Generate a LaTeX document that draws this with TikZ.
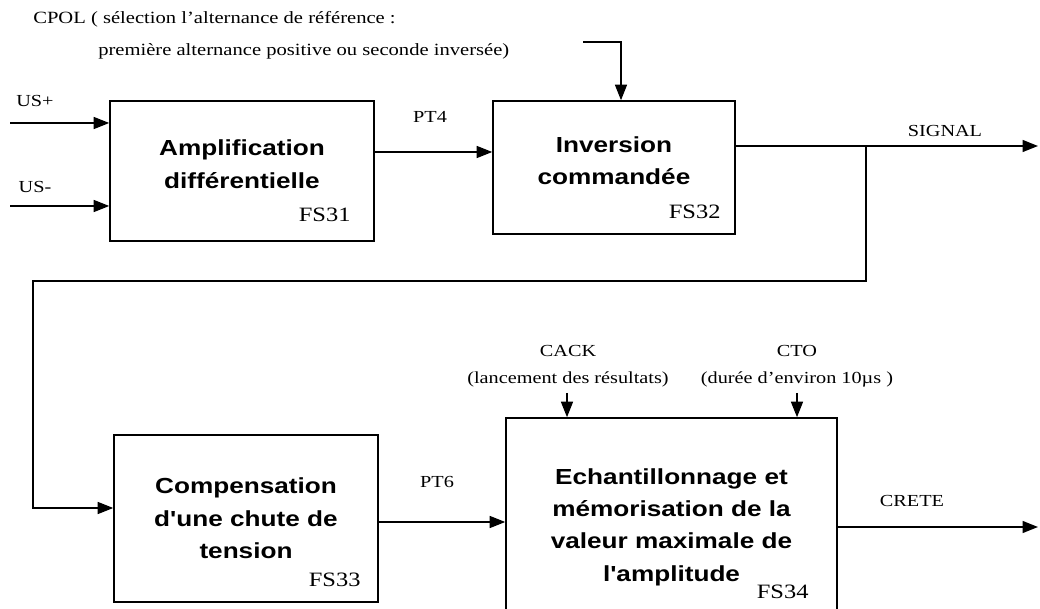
\documentclass[tikz,border=0pt]{standalone}
\usepackage{fontspec}
\setmainfont{Liberation Serif}[FakeStretch=1.2]
\newfontfamily\blockfont{Liberation Sans}[FakeStretch=1.2]
\usetikzlibrary{arrows.meta,positioning}

\tikzset{
  block/.style={draw,line width=1.1pt,align=center,
    font=\blockfont\bfseries\fontsize{15.5}{23}\selectfont},
  fslabel/.style={font=\fontsize{14.5}{17}\selectfont,anchor=south east,inner sep=0pt},
  sig/.style={font=\fontsize{12}{14}\selectfont,inner sep=0pt},
  flow/.style={line width=1.1pt,-{Triangle[length=11pt,width=8.5pt]}},
  wire/.style={line width=1.1pt}
}

\begin{document}
\begin{tikzpicture}[x=0.025cm,y=-0.025cm]
  \useasboundingbox (0,0) rectangle (1040,609);

  % blocs
  \node[block,text depth=10pt,minimum width=6.6cm,minimum height=3.5cm] (fs31) at (242,171)
    {Amplification\\diff\'erentielle};
  \node[block,text depth=10pt,minimum width=6.05cm,minimum height=3.325cm] (fs32) at (614,167.5)
    {Inversion\\command\'ee};
  \node[block,minimum width=6.6cm,minimum height=4.175cm] (fs33) at (246,518.5)
    {Compensation\\d'une chute de\\tension};
  \node[block,minimum width=8.275cm,minimum height=5.45cm] (fs34) at (671.5,527)
    {Echantillonnage et\\m\'emorisation de la\\valeur maximale de\\l'amplitude};

  \node[fslabel] (n31) at ([shift={(-24,-20)}]fs31.south east) {FS31};
  \node[fslabel] (n32) at ([shift={(-15,-16)}]fs32.south east) {FS32};
  \node[fslabel] (n33) at ([shift={(-18,-16)}]fs33.south east) {FS33};
  \node[fslabel] (n34) at ([shift={(-29,-38)}]fs34.south east) {FS34};

  % entrees
  \coordinate (usp) at (10,123);
  \coordinate (usm) at (10,206);
  \draw[flow] (usp) -- (usp -| fs31.west);
  \draw[flow] (usm) -- (usm -| fs31.west);
  \node[sig] (lusp) at (35,101) {US+};
  \node[sig] (lusm) at (35,187) {US-};

  % PT4
  \coordinate (pt4) at (374,152);
  \draw[flow] (pt4) -- (pt4 -| fs32.west);
  \node[sig] (lpt4) at (430,117) {PT4};

  % CPOL
  \node[sig,font=\fontsize{12.2}{14}\selectfont,anchor=west] (cpol1) at (33,19) {CPOL ( s\'election l'alternance de r\'ef\'erence :};
  \node[sig,font=\fontsize{12.2}{14}\selectfont,anchor=west] (cpol2) at (98,51) {premi\`ere alternance positive ou seconde invers\'ee)};
  \coordinate (cpol) at (583,42);
  \coordinate (cpolin) at (621,42);
  \draw[flow] (cpol) -- (cpolin) -- (cpolin |- fs32.north);

  % SIGNAL et retour
  \coordinate (sigout) at (1038,146);
  \coordinate (br) at (866,146);
  \draw[flow] (sigout -| fs32.east) -- (sigout);
  \node[sig] (lsig) at (945,131) {SIGNAL};
  \coordinate (ret) at (33,508);
  \draw[flow] (br) -- (866,281) -- (33,281) -- (ret) -- (ret -| fs33.west);

  % PT6
  \coordinate (pt6) at (378,522);
  \draw[flow] (pt6) -- (pt6 -| fs34.west);
  \node[sig] (lpt6) at (437,482) {PT6};

  % commandes
  \node[sig,align=center] (cack) at (568,366) {CACK\\[5pt](lancement des r\'esultats)};
  \node[sig,align=center] (cto) at (797,366) {CTO\\[5pt](dur\'ee d'environ 10µs )};
  \coordinate (cackin) at (567,393);
  \coordinate (ctoin) at (797,393);
  \draw[flow] (cackin) -- (cackin |- fs34.north);
  \draw[flow] (ctoin) -- (ctoin |- fs34.north);

  % CRETE
  \coordinate (crete) at (1038,527);
  \draw[flow] (crete -| fs34.east) -- (crete);
  \node[sig] (lcrete) at (912,501) {CRETE};
\end{tikzpicture}
\end{document}
